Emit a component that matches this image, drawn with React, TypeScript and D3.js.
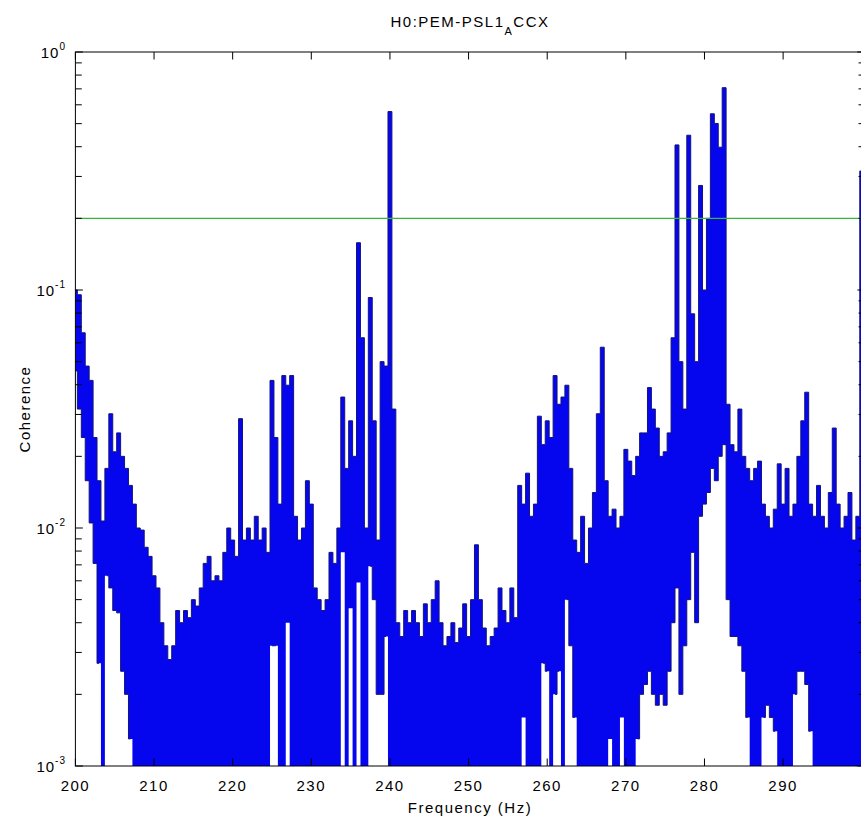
import React from "react";
import * as d3 from "d3";

// ---- text ----
const titleMain = "H0:PEM-PSL1";
const titleSub = "A";
const titleTail = "CCX";
const xLabel = "Frequency (Hz)";
const yLabel = "Coherence";

// ---- axes ----
const xTicks = [200, 210, 220, 230, 240, 250, 260, 270, 280, 290, 300];
const xTickLabels = ["200", "210", "220", "230", "240", "250", "260", "270", "280", "290"];
const yMajor = [0.001, 0.01, 0.1, 1];
const yMajorExp = ["-3", "-2", "-1", "0"];
const yMinorMultipliers = [2, 3, 4, 5, 6, 7, 8, 9];
const threshold = 0.2;

// ---- data: coherence, sampled every 0.5 Hz from 200 Hz ----
const freqStart = 200;
const freqStep = 0.5;
// upper envelope of the coherence trace
const upperCoh = [
  0.1, 0.0955, 0.0661, 0.0479, 0.0417, 0.024, 0.0158, 0.0107, 0.0178, 0.0302,
  0.0209, 0.0251, 0.02, 0.0178, 0.0151, 0.0126, 0.01, 0.0098, 0.0083, 0.0076,
  0.0063, 0.0056, 0.004, 0.0032, 0.0028, 0.0032, 0.0045, 0.004, 0.0045, 0.0042,
  0.005, 0.0047, 0.0056, 0.0071, 0.0076, 0.006, 0.0063, 0.006, 0.0079, 0.01,
  0.0089, 0.0076, 0.0288, 0.0089, 0.01, 0.0089, 0.0112, 0.0089, 0.01, 0.0079,
  0.0417, 0.024, 0.0126, 0.0437, 0.0398, 0.0437, 0.0112, 0.0089, 0.01, 0.0158,
  0.0126, 0.0056, 0.005, 0.0045, 0.005, 0.0079, 0.0071, 0.01, 0.0355, 0.0178,
  0.0282, 0.02, 0.158, 0.063, 0.01, 0.093, 0.0282, 0.0089, 0.05, 0.0479,
  0.562, 0.0316, 0.004, 0.0035, 0.0045, 0.004, 0.0045, 0.004, 0.0035, 0.0048,
  0.004, 0.005, 0.006, 0.004, 0.0032, 0.0035, 0.004, 0.0033, 0.0038, 0.0048,
  0.0035, 0.005, 0.0085, 0.005, 0.0038, 0.0032, 0.0035, 0.0038, 0.0056, 0.0045,
  0.004, 0.0056, 0.0042, 0.0151, 0.0126, 0.017, 0.0112, 0.0126, 0.0295, 0.0224,
  0.0282, 0.024, 0.0437, 0.0331, 0.0355, 0.0398, 0.0178, 0.0089, 0.0079, 0.0112,
  0.0071, 0.01, 0.0141, 0.0302, 0.0575, 0.0158, 0.0112, 0.012, 0.01, 0.0112,
  0.0214, 0.0191, 0.0166, 0.02, 0.0251, 0.0251, 0.0389, 0.0316, 0.0263, 0.02,
  0.0209, 0.0251, 0.063, 0.407, 0.05, 0.0316, 0.447, 0.0794, 0.05, 0.275,
  0.1, 0.2, 0.55, 0.501, 0.398, 0.708, 0.0331, 0.0224, 0.0209, 0.0316,
  0.02, 0.0178, 0.0158, 0.0178, 0.0191, 0.0126, 0.0112, 0.01, 0.012, 0.0186,
  0.0126, 0.0178, 0.0112, 0.0126, 0.02, 0.0282, 0.0372, 0.0126, 0.0112, 0.0151,
  0.0112, 0.01, 0.0141, 0.0263, 0.0126, 0.01, 0.0112, 0.0141, 0.0089, 0.0112,
  0.316,
];
// lower envelope of the coherence trace (values below 1e-3 fall off the axis)
const lowerCoh = [
  0.0457, 0.0316, 0.024, 0.0158, 0.0105, 0.0071, 0.0027, 0.0005, 0.0063, 0.0056,
  0.0045, 0.0044, 0.0025, 0.002, 0.0013, 0.0005, 0.0005, 0.0005, 0.0005, 0.0005,
  0.0005, 0.0005, 0.0005, 0.0005, 0.0005, 0.0005, 0.0005, 0.0005, 0.0005, 0.0005,
  0.0005, 0.0005, 0.0005, 0.0005, 0.0005, 0.0005, 0.0005, 0.0005, 0.0005, 0.0005,
  0.0005, 0.0005, 0.0005, 0.0005, 0.0005, 0.0005, 0.0005, 0.0005, 0.0005, 0.0005,
  0.0032, 0.0032, 0.0005, 0.0005, 0.004, 0.0005, 0.0005, 0.0005, 0.0005, 0.0005,
  0.0005, 0.0005, 0.0005, 0.0005, 0.0005, 0.0005, 0.0005, 0.0005, 0.0079, 0.0005,
  0.0046, 0.0005, 0.0059, 0.0005, 0.0005, 0.0069, 0.005, 0.002, 0.002, 0.0035,
  0.0005, 0.0005, 0.0005, 0.0005, 0.0005, 0.0005, 0.0005, 0.0005, 0.0005, 0.0005,
  0.0005, 0.0005, 0.0005, 0.0005, 0.0005, 0.0005, 0.0005, 0.0005, 0.0005, 0.0005,
  0.0005, 0.0005, 0.0005, 0.0005, 0.0005, 0.0005, 0.0005, 0.0005, 0.0005, 0.0005,
  0.0005, 0.0005, 0.0005, 0.0005, 0.0016, 0.0005, 0.0005, 0.0005, 0.0005, 0.0027,
  0.0025, 0.0005, 0.002, 0.0025, 0.0005, 0.005, 0.0032, 0.0016, 0.0005, 0.0005,
  0.0005, 0.0005, 0.0005, 0.0005, 0.0005, 0.0005, 0.0013, 0.0005, 0.0005, 0.0016,
  0.0005, 0.0005, 0.0005, 0.0013, 0.002, 0.0022, 0.0025, 0.002, 0.0018, 0.002,
  0.0018, 0.0025, 0.004, 0.0056, 0.002, 0.0032, 0.005, 0.0079, 0.004, 0.0112,
  0.0126, 0.0141, 0.0178, 0.0158, 0.02, 0.0224, 0.005, 0.0035, 0.0035, 0.0032,
  0.0025, 0.0016, 0.0005, 0.0005, 0.0005, 0.0016, 0.0018, 0.0016, 0.0014, 0.0005,
  0.0005, 0.0005, 0.0005, 0.002, 0.0025, 0.0025, 0.0022, 0.0014, 0.0005, 0.0005,
  0.0005, 0.0005, 0.0005, 0.0005, 0.0005, 0.0005, 0.0005, 0.0005, 0.0005, 0.0005,
  0.0005,
];

type Datum = { f: number; hi: number; lo: number };

export default function App() {
  const W = 861;
  const H = 823;
  const left = 75.4;
  const right = 864.9;
  const top = 52;
  const bottom = 766;
  const font = "'Liberation Sans', Arial, Helvetica, sans-serif";
  const fs = 15;
  const tickLen = 7.5;

  const x = d3.scaleLinear().domain([200, 300.4]).range([left, right]);
  const y = d3.scaleLog().domain([0.001, 1]).range([bottom, top]);
  const floor = 0.001;

  const data: Datum[] = upperCoh.map((u, i) => ({
    f: freqStart + i * freqStep,
    hi: u,
    lo: lowerCoh[i],
  }));

  const area = d3
    .area<Datum>()
    .x((d) => x(d.f))
    .y0((d) => y(Math.max(d.lo, floor)))
    .y1((d) => y(Math.max(d.hi, floor)))
    .curve(d3.curveStep);

  const upperLine = d3
    .line<Datum>()
    .x((d) => x(d.f))
    .y((d) => y(Math.max(d.hi, floor)))
    .curve(d3.curveStep);

  const lowerLine = d3
    .line<Datum>()
    .defined((d) => d.lo >= floor)
    .x((d) => x(d.f))
    .y((d) => y(d.lo))
    .curve(d3.curveStep);

  const minorTicks: number[] = [];
  for (let k = 0; k < yMajor.length - 1; k++) {
    yMinorMultipliers.forEach((m) => minorTicks.push(m * yMajor[k]));
  }

  return (
    <svg
      width={W}
      height={H}
      style={{ position: "absolute", left: 0, top: 0, background: "#fff" }}
      fontFamily={font}
    >
      <defs>
        <clipPath id="plotClip">
          <rect x={left} y={top} width={right - left} height={bottom - top} />
        </clipPath>
      </defs>
      <rect x={0} y={0} width={W} height={H} fill="#fff" />

      {/* data */}
      <g clipPath="url(#plotClip)">
        <path d={area(data) || ""} fill="#0505ee" stroke="none" />
        <path d={upperLine(data) || ""} fill="none" stroke="#14147e" strokeWidth={1} />
        <path d={lowerLine(data) || ""} fill="none" stroke="#14147e" strokeWidth={1} />
        <line
          x1={left}
          x2={right}
          y1={y(threshold)}
          y2={y(threshold)}
          stroke="#36b836"
          strokeWidth={1.2}
        />
      </g>

      {/* axes box */}
      <rect
        x={left}
        y={top}
        width={right - left}
        height={bottom - top}
        fill="none"
        stroke="#000"
        strokeWidth={1}
      />

      {/* x ticks (bottom & top, inward) */}
      {xTicks.map((t) => (
        <g key={"xt" + t}>
          <line x1={x(t)} x2={x(t)} y1={bottom} y2={bottom - tickLen} stroke="#000" />
          <line x1={x(t)} x2={x(t)} y1={top} y2={top + tickLen} stroke="#000" />
        </g>
      ))}
      {xTickLabels.map((lab, i) => (
        <text
          key={"xl" + lab}
          x={x(xTicks[i])}
          y={791}
          textAnchor="middle"
          fontSize={fs}
          letterSpacing={1.5}
          fill="#000"
        >
          {lab}
        </text>
      ))}

      {/* y ticks (left & right, inward) */}
      {yMajor.map((v) => (
        <g key={"ym" + v}>
          <line x1={left} x2={left + tickLen} y1={y(v)} y2={y(v)} stroke="#000" />
          <line x1={right} x2={right - tickLen} y1={y(v)} y2={y(v)} stroke="#000" />
        </g>
      ))}
      {minorTicks.map((v) => (
        <g key={"yn" + v}>
          <line x1={left} x2={left + tickLen * 0.85} y1={y(v)} y2={y(v)} stroke="#000" />
          <line x1={right} x2={right - tickLen * 0.85} y1={y(v)} y2={y(v)} stroke="#000" />
        </g>
      ))}
      {yMajor.map((v, i) => (
        <text
          key={"yl" + v}
          x={66}
          y={y(v) + 6}
          textAnchor="end"
          fontSize={fs}
          letterSpacing={1}
          fill="#000"
        >
          10
          <tspan dy={-8} fontSize={10}>
            {yMajorExp[i]}
          </tspan>
        </text>
      ))}

      {/* title */}
      <text x={470} y={27} textAnchor="middle" fontSize={fs} letterSpacing={1.5} fill="#000">
        {titleMain}
        <tspan dy={8} fontSize={11}>
          {titleSub}
        </tspan>
        <tspan dy={-8} fontSize={fs}>
          {titleTail}
        </tspan>
      </text>

      {/* axis labels */}
      <text
        x={470}
        y={813}
        textAnchor="middle"
        fontSize={fs}
        letterSpacing={1.5}
        fill="#000"
      >
        {xLabel}
      </text>
      <text
        transform={`translate(30, ${(top + bottom) / 2}) rotate(-90)`}
        textAnchor="middle"
        fontSize={fs}
        letterSpacing={1.5}
        fill="#000"
      >
        {yLabel}
      </text>
    </svg>
  );
}
